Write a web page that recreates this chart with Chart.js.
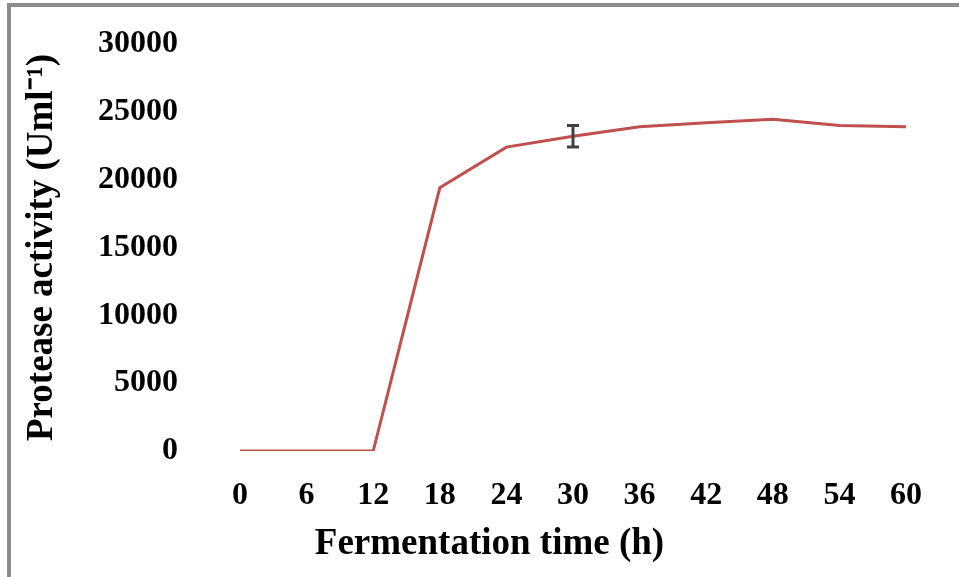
<!DOCTYPE html>
<html>
<head>
<meta charset="utf-8">
<script src="https://cdn.jsdelivr.net/npm/chart.js@4"></script>
<style>
  html, body { margin: 0; padding: 0; background: #fff; }
  #frame {
    position: absolute; left: 7px; top: 3px; width: 952px; height: 574px;
    border-top: 4px solid #8c8c8c; border-left: 4px solid #8c8c8c;
  }
  #wrap { position: absolute; left: 0; top: 0; width: 959px; height: 577px; }
</style>
</head>
<body>
<div id="frame"></div>
<div id="wrap"><canvas id="myChart" width="959" height="577"></canvas></div>
<script>
// Tempo de fermentação (h) e atividade da protease
const hours = [0, 6, 12, 18, 24, 30, 36, 42, 48, 54, 60]
const activity = [0, 0, 0, 19400, 22400, 23200, 23900, 24200, 24450, 24000, 23900]
const errors = [0, 0, 0, 0, 0, 800, 0, 0, 0, 0, 0]
const yTicks = [0, 5000, 10000, 15000, 20000, 25000, 30000]

const tickFont = { family: 'Liberation Serif', size: 32, weight: 'bold' }
const titleFont = { family: 'Liberation Serif', size: 37, weight: 'bold' }

// Barras de erro desenhadas a partir das escalas
const errorBars = {
  id: 'errorBars',
  afterDatasetsDraw(chart) {
    const { ctx, scales } = chart
    ctx.save()
    ctx.strokeStyle = '#404040'
    ctx.lineWidth = 3
    hours.forEach((h, i) => {
      if (!errors[i]) return
      const x = scales.x.getPixelForValue(h)
      const yTop = scales.y.getPixelForValue(activity[i] + errors[i])
      const yBot = scales.y.getPixelForValue(activity[i] - errors[i])
      ctx.beginPath()
      ctx.moveTo(x, yTop); ctx.lineTo(x, yBot)
      ctx.moveTo(x - 6, yTop); ctx.lineTo(x + 6, yTop)
      ctx.moveTo(x - 6, yBot); ctx.lineTo(x + 6, yBot)
      ctx.stroke()
    })
    ctx.restore()
  }
}

const ctx = document.getElementById('myChart').getContext('2d')
new Chart(ctx, {
  type: 'line',
  data: {
    datasets: [{
      data: hours.map((h, i) => ({ x: h, y: activity[i] })),
      borderColor: '#c0504d',
      borderWidth: 3,
      pointRadius: 0,
      tension: 0,
      fill: false
    }]
  },
  options: {
    responsive: false,
    animation: false,
    layout: { padding: { top: 44, right: 0, bottom: 0, left: 20 } },
    plugins: {
      legend: { display: false },
      tooltip: { enabled: false },
      // título do eixo x centrado na largura toda, como no original
      title: {
        display: true,
        position: 'bottom',
        text: 'Fermentation time (h)',
        color: '#000',
        font: titleFont,
        padding: { top: 0, bottom: 10 }
      }
    },
    scales: {
      x: {
        type: 'linear',
        min: 0,
        max: 60,
        grid: { display: false, drawTicks: false },
        border: { display: false },
        afterFit(scale) {
          scale.height = 71.6
          scale.paddingLeft = 0
          scale.paddingRight = 53
        },
        ticks: {
          stepSize: 6,
          color: '#000',
          font: tickFont,
          padding: 26,
          maxRotation: 0
        }
      },
      y: {
        min: 0,
        max: 30000,
        grid: { display: false, drawTicks: false },
        border: { display: false },
        afterFit(scale) {
          scale.width = 220
          scale.paddingTop = 0
          scale.paddingBottom = 0
        },
        afterBuildTicks(scale) { scale.ticks = yTicks.map(v => ({ value: v })) },
        ticks: {
          color: '#000',
          font: tickFont,
          padding: 62,
          callback: v => String(v)
        },
        title: {
          display: true,
          text: 'Protease activity (Uml⁻¹)',
          color: '#000',
          font: titleFont,
          padding: { top: 0, bottom: 0 }
        }
      }
    }
  },
  plugins: [errorBars]
})
</script>
</body>
</html>
